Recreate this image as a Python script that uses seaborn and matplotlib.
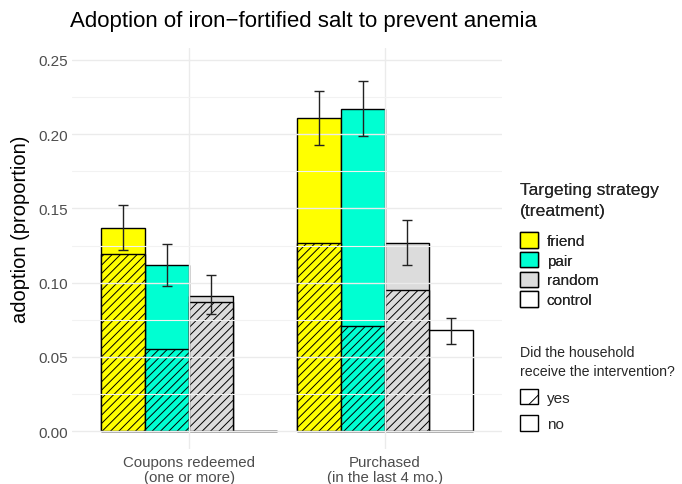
import numpy as np
import pandas as pd
import matplotlib
matplotlib.use("Agg")
import matplotlib.pyplot as plt
from matplotlib.patches import Patch
import seaborn as sns

# ---- data ----
outcomes = ["Coupons redeemed\n(one or more)", "Purchased\n(in the last 4 mo.)"]
treatments = ["friend", "pair", "random", "control"]
colors = ["#FFFF00", "#00FFD2", "#DCDCDC", "#FFFFFF"]

total_coupons = [0.137, 0.112, 0.091, 0.0]
treated_coupons = [0.119, 0.055, 0.087, 0.0]
lo_coupons = [0.122, 0.098, 0.079, np.nan]
hi_coupons = [0.152, 0.126, 0.105, np.nan]

total_purchased = [0.211, 0.217, 0.127, 0.068]
treated_purchased = [0.127, 0.071, 0.095, 0.0]
lo_purchased = [0.193, 0.199, 0.112, 0.059]
hi_purchased = [0.229, 0.236, 0.142, 0.076]

df = pd.DataFrame({
    "outcome": [outcomes[0]] * 4 + [outcomes[1]] * 4,
    "treatment": treatments * 2,
    "total": total_coupons + total_purchased,
    "treated": treated_coupons + treated_purchased,
    "lo": lo_coupons + lo_purchased,
    "hi": hi_coupons + hi_purchased,
})

sns.set_theme(style="white")
plt.rcParams["font.family"] = ["Liberation Sans", "DejaVu Sans"]
plt.rcParams["hatch.linewidth"] = 0.7

fig = plt.figure(figsize=(6.82, 4.85), dpi=100)
ax = fig.add_axes([72 / 682, 1 - 450 / 485, 430 / 682, (450 - 49) / 485])

pal = dict(zip(treatments, colors))
sns.barplot(data=df, x="outcome", y="total", hue="treatment", order=outcomes,
            hue_order=treatments, palette=pal, width=0.9, saturation=1,
            edgecolor="black", linewidth=1.0, errorbar=None, legend=False, ax=ax)
n_first = len(ax.containers)
sns.barplot(data=df, x="outcome", y="treated", hue="treatment", order=outcomes,
            hue_order=treatments, palette=pal, width=0.9, saturation=1,
            edgecolor="black", linewidth=1.0, errorbar=None, legend=False, ax=ax)
for cont in ax.containers[n_first:]:
    for p in cont.patches:
        p.set_hatch("////")

# error bars at bar centres
for ti, cont in enumerate(ax.containers[:n_first]):
    t = treatments[ti]
    sub = df[df.treatment == t].set_index("outcome").loc[outcomes]
    for oi, p in enumerate(cont.patches):
        lo, hi = sub["lo"].iloc[oi], sub["hi"].iloc[oi]
        if np.isnan(lo):
            continue
        xc = p.get_x() + p.get_width() / 2
        mid = (lo + hi) / 2
        ax.errorbar([xc], [mid], yerr=[[mid - lo], [hi - mid]], fmt="none",
                    ecolor="#222222", elinewidth=1.0, capsize=3.6, capthick=1.0,
                    zorder=5)

ax.set_xlim(-0.6, 1.6)
ax.set_ylim(-0.012, 0.258)
ax.set_yticks(np.arange(0, 0.26, 0.05))
ax.set_yticks(np.arange(0.025, 0.26, 0.05), minor=True)
ax.set_yticklabels([f"{v:.2f}" for v in np.arange(0, 0.26, 0.05)])
ax.grid(True, which="major", axis="both", color="#EBEBEB", linewidth=1.0)
ax.grid(True, which="minor", axis="y", color="#F2F2F2", linewidth=0.8)
ax.set_axisbelow(False)
for s in ax.spines.values():
    s.set_visible(False)
ax.tick_params(axis="y", which="both", length=0, colors="#4D4D4D",
               labelsize=11, pad=3)
ax.tick_params(axis="x", which="both", length=0, colors="#4D4D4D",
               labelsize=10.8, pad=4)
for lab in ax.get_xticklabels():
    lab.set_horizontalalignment("center")
    lab.set_linespacing(1.1)
ax.set_xlabel("")
ax.set_ylabel("adoption (proportion)", fontsize=14.5, color="black")
ax.yaxis.set_label_coords(-0.098, 0.551)

fig.text(70 / 682, 1 - 22 / 485, "Adoption of iron\u2212fortified salt to prevent anemia",
         fontsize=16, va="center", ha="left", color="black")

h1 = [Patch(facecolor=c, edgecolor="black", linewidth=1.0) for c in colors]
leg1 = fig.legend(h1, treatments, loc="upper left",
                  bbox_to_anchor=(515 / 682, 1 - 178 / 485),
                  title="Targeting strategy\n(treatment)", title_fontsize=12.6,
                  fontsize=11, frameon=False, handlelength=1.18, handleheight=1.18,
                  labelspacing=0.25, handletextpad=0.6, alignment="left",
                  borderaxespad=0, borderpad=0.3)
leg1.get_title().set_linespacing(1.55)
leg1._legend_box.sep = 10
h2 = [Patch(facecolor="white", edgecolor="black", linewidth=1.0, hatch="/"),
      Patch(facecolor="white", edgecolor="black", linewidth=1.0)]
leg2 = fig.legend(h2, ["yes", "no"], loc="upper left",
                  bbox_to_anchor=(515 / 682, 1 - 341 / 485),
                  title="Did the household\nreceive the intervention?",
                  title_fontsize=10.2, fontsize=11, frameon=False,
                  handlelength=1.18, handleheight=1.18, labelspacing=0.7,
                  handletextpad=0.6, alignment="left", borderaxespad=0,
                  borderpad=0.3)
leg2.get_title().set_linespacing(1.45)
leg2._legend_box.sep = 8
fig.add_artist(leg1)

fig.savefig("out.png", dpi=100, facecolor="white")
